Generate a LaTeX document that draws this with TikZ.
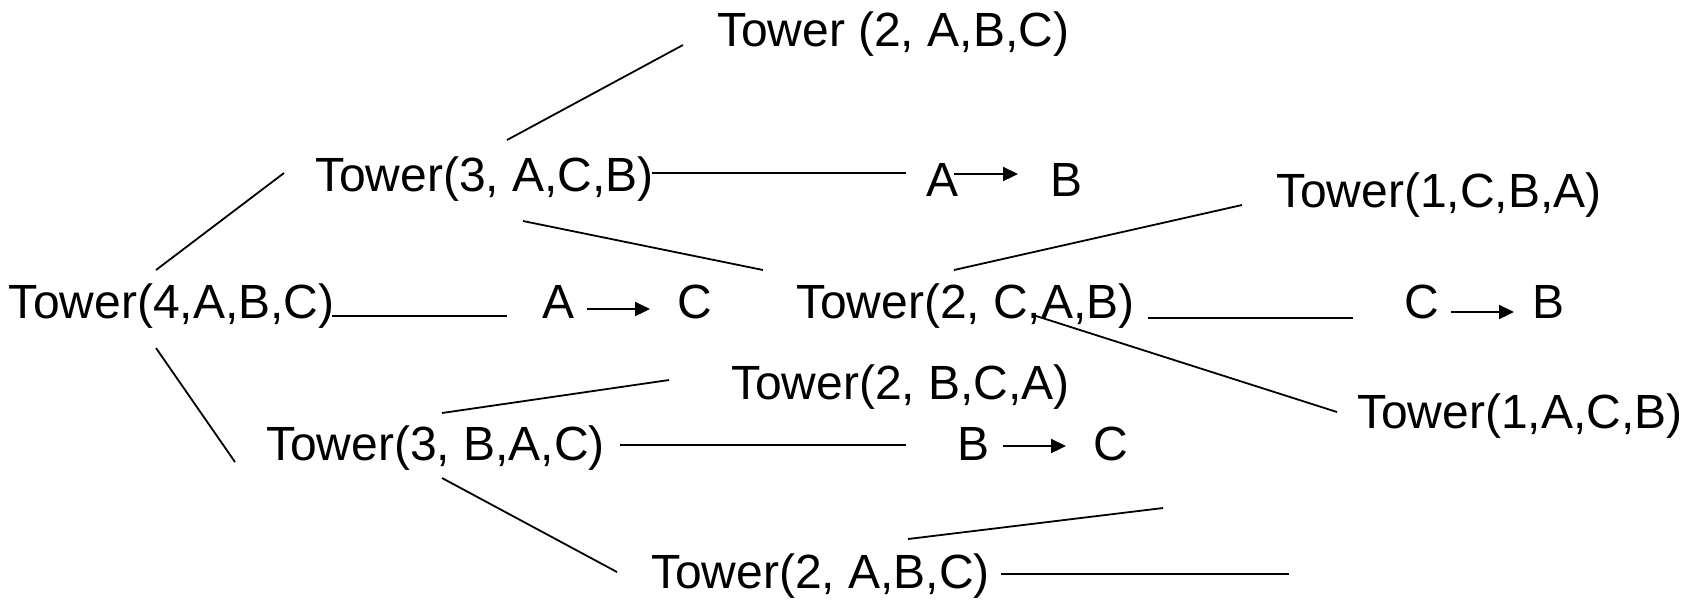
\documentclass[tikz,border=0pt]{standalone}
\usepackage{fontspec}
\setmainfont{Liberation Sans}
\usetikzlibrary{arrows.meta}
\begin{document}
\begin{tikzpicture}[x=0.5pt,y=-0.5pt,
  lbl/.style={anchor=base west,inner sep=0pt,outer sep=0pt,font=\fontsize{24}{29}\selectfont},
  edge/.style={line width=0.9pt},
  mv/.style={line width=1.1pt,-{Triangle[length=7.5pt,width=7pt]}}]
\useasboundingbox (0,0) rectangle (1691,602);
% calls
\node[lbl] (t2abc) at (717,46) {Tower (2, A,B,C)};
\node[lbl] (t3acb) at (315,191) {Tower(3, A,C,B)};
\node[lbl] (t1cba) at (1276,207) {Tower(1,C,B,A)};
\node[lbl] (t4abc) at (9,318) {Tower(4,A,B,C)};
\node[lbl] (t2cab) at (796,318) {Tower(2, C,A,B)};
\node[lbl] (t2bca) at (731,399) {Tower(2, B,C,A)};
\node[lbl] (t1acb) at (1357,428) {Tower(1,A,C,B)};
\node[lbl] (t3bac) at (266,460) {Tower(3, B,A,C)};
\node[lbl] (t2abcb) at (651,588) {Tower(2, A,B,C)};
% moves
\node[lbl] (mab1) at (926,196) {A};
\node[lbl] (mab2) at (1050,196) {B};
\node[lbl] (mac1) at (542,318) {A};
\node[lbl] (mac2) at (677,318) {C};
\node[lbl] (mcb1) at (1404,318) {C};
\node[lbl] (mcb2) at (1532,318) {B};
\node[lbl] (mbc1) at (957,460) {B};
\node[lbl] (mbc2) at (1093,460) {C};
% move arrows
\coordinate (ab1) at (954,174);  \coordinate (ab2) at (1018,174);
\coordinate (ac1) at (587,309);  \coordinate (ac2) at (650,309);
\coordinate (cb1) at (1451,312); \coordinate (cb2) at (1514,312);
\coordinate (bc1) at (1003,446); \coordinate (bc2) at (1066,446);
\draw[mv] (ab1) -- (ab2);
\draw[mv] (ac1) -- (ac2);
\draw[mv] (cb1) -- (cb2);
\draw[mv] (bc1) -- (bc2);
% tree branches
\coordinate (e1a) at (507,140);  \coordinate (e1b) at (683,45);
\coordinate (e2a) at (652,173);  \coordinate (e2b) at (906,173);
\coordinate (e3a) at (523,221);  \coordinate (e3b) at (763,270);
\coordinate (e4a) at (156,270);  \coordinate (e4b) at (284,173);
\coordinate (e5a) at (332,316);  \coordinate (e5b) at (507,316);
\coordinate (e6a) at (156,348);  \coordinate (e6b) at (235,462);
\coordinate (e7a) at (954,270);  \coordinate (e7b) at (1242,205);
\coordinate (e8a) at (1148,318); \coordinate (e8b) at (1353,318);
\coordinate (e9a) at (1033,315); \coordinate (e9b) at (1337,412);
\coordinate (e10a) at (442,413); \coordinate (e10b) at (669,380);
\coordinate (e11a) at (620,445); \coordinate (e11b) at (906,445);
\coordinate (e12a) at (442,478); \coordinate (e12b) at (617,572);
\coordinate (e13a) at (908,539); \coordinate (e13b) at (1163,508);
\coordinate (e14a) at (1001,574); \coordinate (e14b) at (1289,574);
\foreach \i in {1,...,14} \draw[edge] (e\i a) -- (e\i b);
\end{tikzpicture}
\end{document}
